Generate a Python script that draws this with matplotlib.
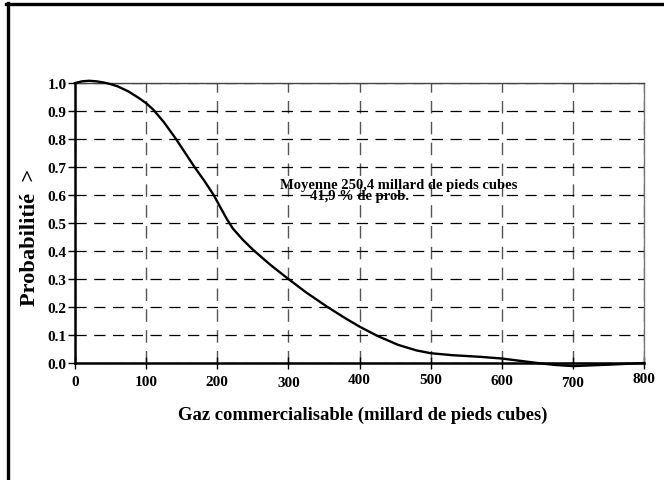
import matplotlib
matplotlib.use("Agg")
import matplotlib.pyplot as plt
from matplotlib.lines import Line2D
from matplotlib.transforms import ScaledTranslation

# Data
gas = [0, 10, 20, 30, 40, 50, 60, 75, 90, 100, 110, 125, 142, 155, 168, 182, 195, 205, 214, 222, 236,
       250, 275, 300, 325, 355, 380, 400, 425, 454, 480, 500, 530, 570, 600, 625, 650, 675, 700, 750, 800]
prob = [1.0, 1.006, 1.008, 1.006, 1.002, 0.996, 0.988, 0.97, 0.946, 0.928, 0.905, 0.86, 0.8, 0.75, 0.7, 0.65, 0.6, 0.553, 0.512, 0.48, 0.44,
        0.405, 0.35, 0.3, 0.252, 0.2, 0.16, 0.13, 0.097, 0.065, 0.045, 0.035, 0.028, 0.022, 0.016, 0.008, 0.0, -0.007, -0.011, -0.006, 0.0]
xticks = [0, 100, 200, 300, 400, 500, 600, 700, 800]
yticks = [0.0, 0.1, 0.2, 0.3, 0.4, 0.5, 0.6, 0.7, 0.8, 0.9, 1.0]
xlabel = "Gaz commercialisable (millard de pieds cubes)"
ylabel = "Probabilitié  >"
note1 = "Moyenne 250,4 millard de pieds cubes"
note2 = "41,9 % de prob."

plt.rcParams['font.family'] = ['Liberation Serif', 'DejaVu Serif']
plt.rcParams['font.weight'] = 'bold'

W, H = 664, 481
fig = plt.figure(figsize=(W / 100, H / 100), dpi=100)
renderer = fig.canvas.get_renderer()


def fit(text, target_px, base=10.0):
    t = fig.text(0, 0, text, fontsize=base, fontweight='bold')
    w = t.get_window_extent(renderer).width
    t.remove()
    return base * target_px / w


ax = fig.add_axes([75 / W, 1 - 364 / H, (644 - 75) / W, (364 - 84) / H])

ax.plot(gas, prob, color='black', lw=1.7, zorder=3, clip_on=False)
ax.set_xlim(0, 800)
ax.set_ylim(0, 1.0)
ax.set_xticks(xticks)
ax.set_yticks(yticks)
ax.set_xticklabels([str(v) for v in xticks], fontsize=11, fontweight='bold')
ax.set_yticklabels([f"{v:.1f}" for v in yticks], fontsize=11, fontweight='bold')
ax.tick_params(axis='y', direction='out', length=5, width=1, color='black', pad=1)
ax.tick_params(axis='x', direction='inout', length=9, width=1, color='black', pad=4)

# slight vertical jitter of the x tick labels, as in the scanned original (pixels, + = down)
label_shift = [0, 0.5, 0, 1, -1.5, -1.5, -0.5, 1, -2.5]
for lbl, dy in zip(ax.get_xticklabels(), label_shift):
    lbl.set_transform(lbl.get_transform() + ScaledTranslation(0, -dy / 100, fig.dpi_scale_trans))

ax.yaxis.grid(True, linestyle=(0, (9, 6)), color='black', lw=0.9)
ax.xaxis.grid(True, linestyle=(0, (9, 6)), color='#555555', lw=1.0)
ax.set_axisbelow(True)

for s in ['left', 'bottom']:
    ax.spines[s].set_linewidth(1.8)
    ax.spines[s].set_color('black')
ax.spines['top'].set_linewidth(1.0)
ax.spines['top'].set_color('#444444')
ax.spines['right'].set_linewidth(1.0)
ax.spines['right'].set_color('#777777')

fs_note = fit(note1, 238)
fig.text(280 / W, 1 - 185.5 / H, note1, fontsize=fs_note, fontweight='bold', ha='left', va='center')
fig.text(310 / W, 1 - 197 / H, note2, fontsize=fs_note, fontweight='bold', ha='left', va='center')

fs_x = fit("Gaz commercialisable (m", 202)
fig.text(178 / W, 1 - 415 / H, xlabel, fontsize=fs_x, fontweight='bold', ha='left', va='center')
fs_y = fit("Probabilitié", 113)
fig.text(30 / W, 1 - 237 / H, ylabel, fontsize=fs_y, fontweight='bold', ha='center', va='center', rotation=90)

# Partial frame of the figure (left and top thick lines)
fig.add_artist(Line2D([7.5 / W, 7.5 / W], [0, 1 - 3.5 / H], transform=fig.transFigure, color='black', lw=2.4))
fig.add_artist(Line2D([6 / W, 1], [1 - 5 / H, 1 - 5 / H], transform=fig.transFigure, color='black', lw=2.4))

fig.savefig("out.png", dpi=100)
